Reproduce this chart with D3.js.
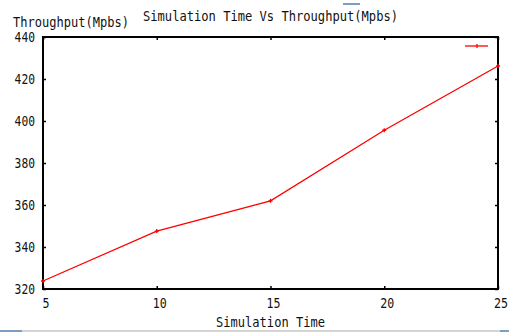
<!DOCTYPE html>
<html>
<head>
<meta charset="utf-8">
<script src="https://cdn.jsdelivr.net/npm/d3@7"></script>
<style>
  body { margin: 0; background: #fff; }
  text { font-family: "DejaVu Sans Mono", monospace; font-size: 14.5px; fill: #111; }
</style>
</head>
<body>
<div id="chart"></div>
<script>
const simTime = [5, 10, 15, 20, 25];
const throughput = [323.8, 347.6, 362, 395.6, 426.2];
const xTicks = [5, 10, 15, 20, 25];
const yTicks = [320, 340, 360, 380, 400, 420, 440];

const dimension = {
    width: 509,
    height: 332,
    margin: { top: 37, left: 43, bottom: 43, right: 11 }
};
dimension.boundedWidth = dimension.width - dimension.margin.left - dimension.margin.right;
dimension.boundedHeight = dimension.height - dimension.margin.top - dimension.margin.bottom;

const svg = d3.select("#chart").append("svg")
    .attr("width", dimension.width)
    .attr("height", dimension.height);

const xScale = d3.scaleLinear().domain([5, 25]).range([0, dimension.boundedWidth]);
const yScale = d3.scaleLinear().domain([320, 440]).range([dimension.boundedHeight, 0]);

const bounds = svg.append("g")
    .attr("transform", `translate(${dimension.margin.left},${dimension.margin.top})`);

// inner ticks on all four sides (gnuplot style)
const tickLen = 3;
bounds.append("g")
    .attr("transform", `translate(0,${dimension.boundedHeight})`)
    .call(d3.axisTop(xScale).tickValues(xTicks).tickSize(tickLen).tickFormat(""))
    .call(g => g.select(".domain").remove());
bounds.append("g")
    .call(d3.axisBottom(xScale).tickValues(xTicks).tickSize(tickLen).tickFormat(""))
    .call(g => g.select(".domain").remove());
bounds.append("g")
    .call(d3.axisRight(yScale).tickValues(yTicks).tickSize(tickLen).tickFormat(""))
    .call(g => g.select(".domain").remove());
bounds.append("g")
    .attr("transform", `translate(${dimension.boundedWidth},0)`)
    .call(d3.axisLeft(yScale).tickValues(yTicks).tickSize(tickLen).tickFormat(""))
    .call(g => g.select(".domain").remove());
bounds.selectAll(".tick line").attr("stroke", "#000").attr("stroke-width", 1.5);

// tick labels, squeezed to the narrow bitmap-font width
bounds.selectAll(".xlab").data(xTicks).enter().append("text")
    .attr("x", d => xScale(d) + 3)
    .attr("y", dimension.boundedHeight + 19)
    .attr("text-anchor", "middle")
    .attr("textLength", d => String(d).length * 7)
    .attr("lengthAdjust", "spacingAndGlyphs")
    .text(d => d);
bounds.selectAll(".ylab").data(yTicks).enter().append("text")
    .attr("x", -8)
    .attr("y", d => yScale(d) + 5)
    .attr("text-anchor", "end")
    .attr("textLength", d => String(d).length * 6.8)
    .attr("lengthAdjust", "spacingAndGlyphs")
    .text(d => d);

// frame
bounds.append("rect")
    .attr("width", dimension.boundedWidth)
    .attr("height", dimension.boundedHeight)
    .attr("fill", "none")
    .attr("stroke", "#000")
    .attr("stroke-width", 2);

// data line
const line = d3.line().x((d, i) => xScale(simTime[i])).y(d => yScale(d));
bounds.append("path")
    .datum(throughput)
    .attr("d", line)
    .attr("fill", "none")
    .attr("stroke", "#ff0000")
    .attr("stroke-width", 1.3);

bounds.selectAll(".pt").data(throughput).enter().append("path")
    .attr("d", (d, i) => {
        const x = xScale(simTime[i]), y = yScale(d);
        return `M${x - 2},${y}H${x + 2}M${x},${y - 2}V${y + 2}`;
    })
    .attr("stroke", "#ff0000")
    .attr("stroke-width", 1.3);

// legend sample (no label)
const lg = bounds.append("g").attr("transform", `translate(${dimension.boundedWidth - 33},9)`);
lg.append("line").attr("x1", 0).attr("x2", 23).attr("stroke", "#ff0000").attr("stroke-width", 1.3);
lg.append("line").attr("x1", 12).attr("x2", 12).attr("y1", -2).attr("y2", 2).attr("stroke", "#ff0000").attr("stroke-width", 1.3);

// titles
svg.append("text").attr("x", 270.5).attr("y", 21).attr("text-anchor", "middle")
    .attr("textLength", 255).attr("lengthAdjust", "spacingAndGlyphs")
    .text("Simulation Time Vs Throughput(Mpbs)");
svg.append("text").attr("x", 13).attr("y", 27)
    .attr("textLength", 116).attr("lengthAdjust", "spacingAndGlyphs")
    .text("Throughput(Mpbs)");
svg.append("text").attr("x", 270.5).attr("y", 327).attr("text-anchor", "middle")
    .attr("textLength", 109).attr("lengthAdjust", "spacingAndGlyphs")
    .text("Simulation Time");

// window chrome bits from the screenshot
svg.append("rect").attr("x", 343).attr("y", 3).attr("width", 17).attr("height", 2).attr("fill", "#7f9cc2");
svg.append("rect").attr("x", 0).attr("y", 330).attr("width", 509).attr("height", 2).attr("fill", "#d4d4d4");
svg.append("rect").attr("x", 0).attr("y", 330).attr("width", 22).attr("height", 2).attr("fill", "#7f9cc2");
svg.append("rect").attr("x", 500).attr("y", 330).attr("width", 9).attr("height", 2).attr("fill", "#7f9cc2");
</script>
</body>
</html>
